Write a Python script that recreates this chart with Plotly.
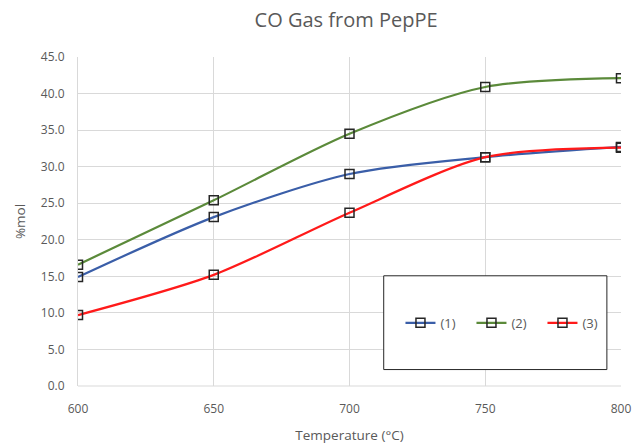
import plotly.graph_objects as go

temps = [600, 650, 700, 750, 800]
s1 = [14.9, 23.1, 29.0, 31.3, 32.7]
s2 = [16.6, 25.4, 34.5, 40.9, 42.1]
s3 = [9.7, 15.2, 23.7, 31.3, 32.6]
names = ["(1)", "(2)", "(3)"]
colors = ["#3a5ea8", "#5b8a3a", "#ff1a1a"]

fig = go.Figure()
for ys, nm, c in zip([s1, s2, s3], names, colors):
    fig.add_trace(go.Scatter(
        x=temps, y=ys, name=nm, mode="lines+markers",
        line=dict(color=c, width=2.2, shape="spline", smoothing=0.8),
        marker=dict(symbol="square-open", size=9, color="#262626", line=dict(width=1.5, color="#262626")),
    ))

font_c = "#595959"
fig.update_layout(
    width=635, height=446,
    paper_bgcolor="white", plot_bgcolor="white",
    margin=dict(l=78, r=14, t=57, b=60),
    font=dict(family="Open Sans, Liberation Sans, sans-serif", color=font_c, size=12),
    title=dict(text="CO Gas from PepPE", x=0.545, xanchor="center", y=0.955, yanchor="middle",
               font=dict(size=20, color=font_c)),
    xaxis=dict(range=[600, 800], dtick=50, showgrid=True, gridcolor="#d9d9d9", gridwidth=1,
               zeroline=False, showline=False, ticks="", ticklabelstandoff=14, automargin=False,
               tickfont=dict(size=12, color=font_c),
               title=dict(text="Temperature (°C)", font=dict(size=13.5, color=font_c), standoff=14)),
    yaxis=dict(range=[0, 45], dtick=5, tickformat=".1f", showgrid=True, gridcolor="#d9d9d9", gridwidth=1,
               zeroline=False, showline=True, linecolor="#d9d9d9", linewidth=1, ticks="",
               ticklabelstandoff=10, automargin=False, tickfont=dict(size=12, color=font_c),
               title=dict(text="%mol", font=dict(size=13.5, color=font_c), standoff=12)),
    showlegend=True,
    legend=dict(orientation="h", x=0.79, y=0.192, xanchor="center", yanchor="middle",
                bgcolor="rgba(0,0,0,0)", font=dict(size=13, color=font_c),
                entrywidth=26, entrywidthmode="pixels", tracegroupgap=0),
    shapes=[
        dict(type="rect", xref="paper", yref="paper", x0=0.563, x1=0.974, y0=0.05, y1=0.335,
             line=dict(color="#262626", width=1), fillcolor="white", layer="above"),
        dict(type="line", xref="paper", yref="paper", x0=0, x1=1, y0=0, y1=0,
             line=dict(color="#d9d9d9", width=1)),
    ],
)
fig.write_html("out.html")
